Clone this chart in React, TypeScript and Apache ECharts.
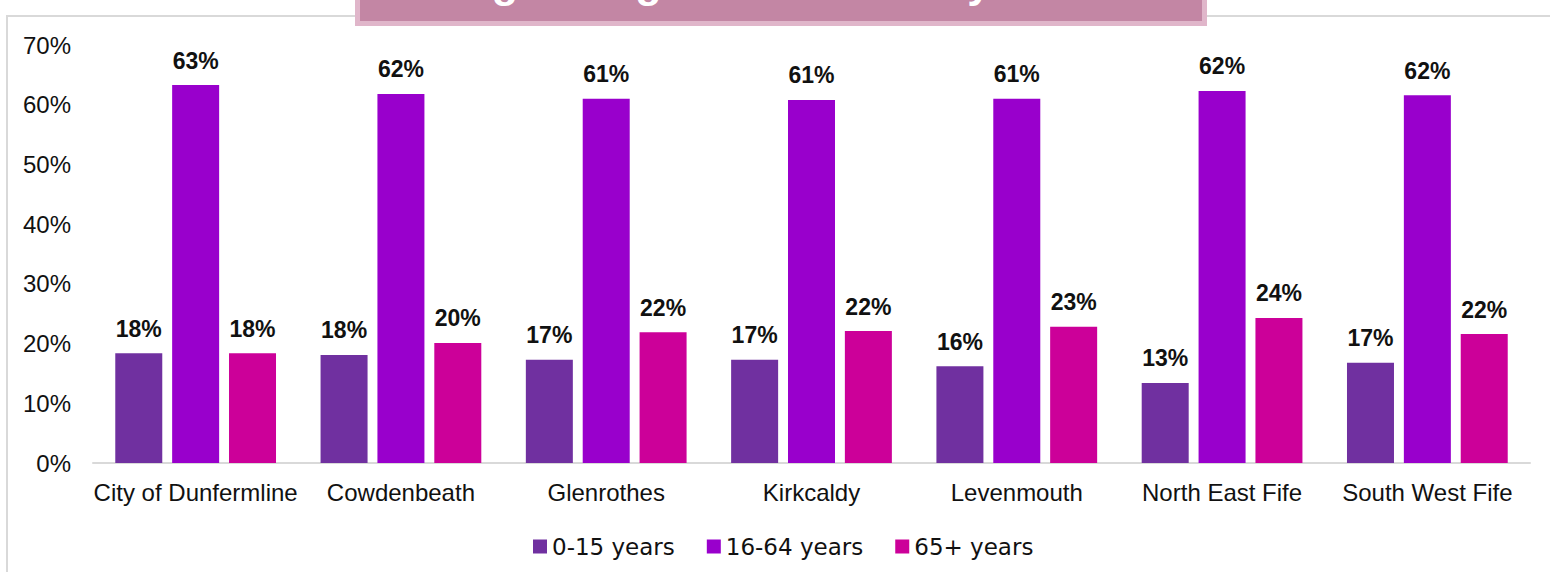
import React, { useEffect, useRef } from "react";
import * as echarts from "echarts";

const categories = [
  "City of Dunfermline",
  "Cowdenbeath",
  "Glenrothes",
  "Kirkcaldy",
  "Levenmouth",
  "North East Fife",
  "South West Fife",
];
const seriesNames = ["0-15 years", "16-64 years", "65+ years"];
const age0to15 = [18.4, 18.1, 17.3, 17.3, 16.2, 13.4, 16.8];
const age16to64 = [63.3, 61.8, 61.0, 60.8, 61.0, 62.3, 61.6];
const age65plus = [18.4, 20.1, 21.9, 22.1, 22.8, 24.3, 21.6];
const seriesColors = ["#7030a0", "#9900cc", "#cc0099"];
const titleText = "Age Range Breakdown by Area";

const FONT = "'Liberation Sans', Arial, sans-serif";

export default function App() {
  const ref = useRef<HTMLDivElement>(null);

  useEffect(() => {
    if (!ref.current) return;
    const chart = echarts.init(ref.current, null, { renderer: "svg" });
    const values = [age0to15, age16to64, age65plus];
    const option = {
      animation: false,
      backgroundColor: "#ffffff",
      textStyle: { fontFamily: FONT },
      grid: { left: 93, right: 20, top: 45, bottom: 109, containLabel: false },
      legend: {
        data: seriesNames,
        left: 528,
        top: 530,
        itemWidth: 14,
        itemHeight: 14,
        itemGap: 32,
        icon: "rect",
        textStyle: {
          fontFamily: "'DejaVu Sans', sans-serif",
          fontSize: 23,
          color: "#111111",
        },
      },
      xAxis: {
        type: "category",
        data: categories,
        axisLine: { show: true, lineStyle: { color: "#d9d9d9", width: 2 } },
        axisTick: { show: false },
        axisLabel: {
          fontFamily: FONT,
          fontSize: 24,
          lineHeight: 24,
          color: "#111111",
          margin: 17,
          interval: 0,
        },
      },
      yAxis: {
        type: "value",
        min: 0,
        max: 70,
        interval: 10,
        splitLine: { show: false },
        axisLine: { show: false },
        axisTick: { show: false },
        axisLabel: {
          fontFamily: FONT,
          fontSize: 24,
          color: "#111111",
          margin: 22,
          formatter: "{value}%",
        },
      },
      series: seriesNames.map((name, i) => ({
        name,
        type: "bar",
        data: values[i],
        barWidth: 47,
        barGap: "21%",
        itemStyle: { color: seriesColors[i] },
        label: {
          show: true,
          position: "top",
          distance: 13,
          fontFamily: FONT,
          fontWeight: "bold",
          fontSize: 23,
          color: "#111111",
          formatter: (p: any) => Math.round(p.value) + "%",
        },
      })),
      graphic: [
        {
          type: "rect",
          z: -10,
          silent: true,
          shape: { x: 7, y: 16, width: 1600, height: 620 },
          style: { fill: "none", stroke: "#d9d9d9", lineWidth: 2 },
        },
        {
          type: "rect",
          z: 100,
          silent: true,
          shape: { x: 357.5, y: -20, width: 847, height: 43.5 },
          style: { fill: "#c386a4", stroke: "#e0b6ca", lineWidth: 5 },
        },
        {
          type: "text",
          z: 101,
          silent: true,
          x: 779,
          y: -18,
          style: {
            text: titleText,
            fill: "#ffffff",
            fontFamily: FONT,
            fontWeight: "bold",
            fontSize: 43,
            align: "center",
            verticalAlign: "middle",
          },
        },
      ],
    };
    chart.setOption(option as any);
    return () => chart.dispose();
  }, []);

  return (
    <div
      ref={ref}
      style={{
        position: "fixed",
        left: 0,
        top: 0,
        width: 1550,
        height: 572,
      }}
    />
  );
}
